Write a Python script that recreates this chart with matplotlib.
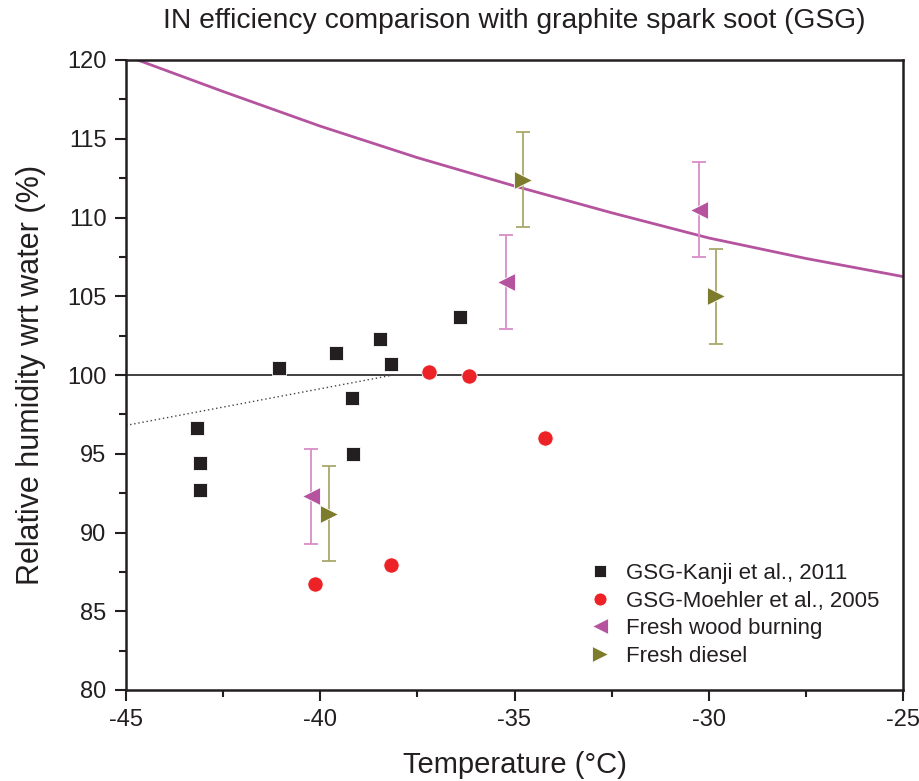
import numpy as np
import matplotlib
matplotlib.use("Agg")
import matplotlib.pyplot as plt
from matplotlib.ticker import MultipleLocator

plt.rcParams['font.family'] = ['Liberation Sans', 'DejaVu Sans']

# --- données ---
kanji_T = [-43.17, -43.10, -43.10, -41.06, -39.59, -38.46, -38.18, -39.18, -39.16, -36.40]
kanji_RH = [96.64, 94.41, 92.70, 100.44, 101.40, 102.29, 100.70, 98.54, 94.98, 103.68]

moehler_T = [-37.20, -36.17, -34.21, -40.13, -38.17]
moehler_RH = [100.19, 99.94, 96.0, 86.71, 87.96]

wood_T = [-40.24, -35.22, -30.25]
wood_RH = [92.29, 105.9, 110.5]
wood_err = [3.0, 3.0, 3.0]

diesel_T = [-39.77, -34.78, -29.81]
diesel_RH = [91.2, 112.4, 105.0]
diesel_err = [3.0, 3.0, 3.0]

# courbe magenta (lue point par point)
curve_T = [-44.7, -42.5, -40.0, -37.5, -35.0, -32.5, -30.0, -27.5, -25.0]
curve_RH = [120.0, 118.0, 115.8, 113.8, 112.0, 110.3, 108.7, 107.4, 106.25]

# ligne pointillée
dot_T = [-45.0, -38.12]
dot_RH = [96.8, 100.0]

c_black = '#231f20'
c_red = '#ec2227'
c_mag = '#b5539f'
c_mag_light = '#d98dc8'
c_olive = '#7d7c2c'
c_olive_light = '#a9a86b'

fig = plt.figure(figsize=(9.2, 7.81), dpi=100)
ax = fig.add_axes([126/920, 1 - 690/781, 777/920, 630/781])

ax.axhline(100, color=c_black, lw=1.2, zorder=1)
ax.plot(dot_T, dot_RH, ls=(0, (1, 2)), color='#444444', lw=1.0, zorder=1)
ax.plot(curve_T, curve_RH, color=c_mag, lw=2.0, zorder=2)

ax.errorbar(wood_T, wood_RH, yerr=wood_err, fmt='none', ecolor=c_mag_light,
            elinewidth=1.3, capsize=5, capthick=1.3, zorder=3)
ax.errorbar(diesel_T, diesel_RH, yerr=diesel_err, fmt='none', ecolor=c_olive_light,
            elinewidth=1.3, capsize=5, capthick=1.3, zorder=3)

ax.plot(kanji_T, kanji_RH, 's', color=c_black, ms=10, mec='white', mew=0.6,
        label='GSG-Kanji et al., 2011', zorder=4)
ax.plot(moehler_T, moehler_RH, 'o', color=c_red, ms=11, mec='white', mew=0.6,
        label='GSG-Moehler et al., 2005', zorder=4)
ax.plot(wood_T, wood_RH, '<', color=c_mag, ms=13, mec='white', mew=0.6,
        label='Fresh wood burning', zorder=4)
ax.plot(diesel_T, diesel_RH, '>', color=c_olive, ms=13, mec='white', mew=0.6,
        label='Fresh diesel', zorder=4)

ax.set_xlim(-45, -25)
ax.set_ylim(80, 120)
ax.xaxis.set_major_locator(MultipleLocator(5))
ax.xaxis.set_minor_locator(MultipleLocator(2.5))
ax.yaxis.set_major_locator(MultipleLocator(5))
ax.yaxis.set_minor_locator(MultipleLocator(2.5))
ax.tick_params(which='both', direction='out', width=1.5, colors=c_black,
               labelsize=17, top=False, right=False)
ax.tick_params(which='major', length=8, pad=6)
ax.tick_params(which='minor', length=5)
for s in ax.spines.values():
    s.set_linewidth(1.8)
    s.set_color(c_black)

ax.set_xticklabels([f'{int(v)}' for v in ax.get_xticks()])
ax.set_xlabel('Temperature (°C)', fontsize=21, labelpad=14, color=c_black)
ax.set_ylabel('Relative humidity wrt water (%)', fontsize=22, labelpad=15, color=c_black)
fig.text((126 + 903) / 2 / 920, 1 - 21 / 781,
         'IN efficiency comparison with graphite spark soot (GSG)',
         ha='center', va='center', fontsize=20.3, color=c_black)

ax.legend(loc='lower right', bbox_to_anchor=(0.99, 0.012), frameon=False,
          fontsize=16, handletextpad=0.6, labelspacing=0.3, borderpad=0.2,
          handlelength=1.2, labelcolor=c_black, markerscale=0.85)

fig.savefig('out.png', dpi=100)
